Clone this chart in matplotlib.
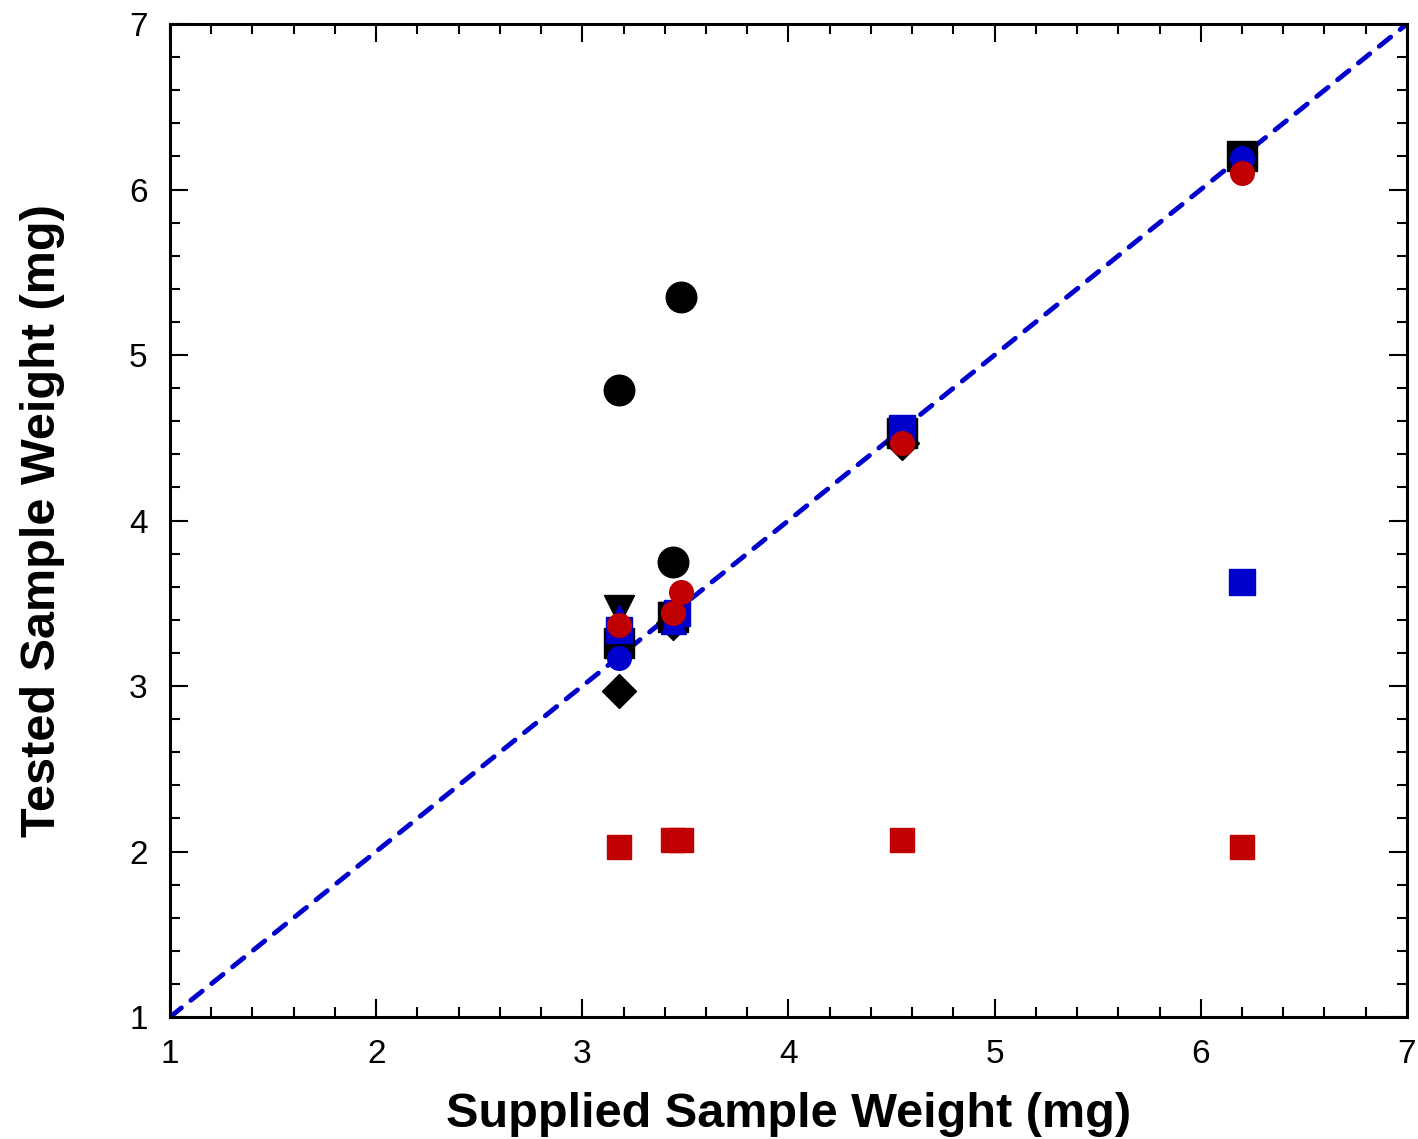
import matplotlib.pyplot as plt
from matplotlib.ticker import MultipleLocator

plt.rcParams['font.family'] = ['Liberation Sans', 'DejaVu Sans']

# supplied vs tested sample weight (mg)
blk_circ_x = [3.18, 3.48, 3.44]
blk_circ_y = [4.79, 5.35, 3.75]
blk_sq_x = [3.18, 3.44, 4.55, 6.20]
blk_sq_y = [3.26, 3.42, 4.53, 6.20]
blk_dia_x = [3.18, 3.44, 4.55]
blk_dia_y = [2.97, 3.38, 4.47]
blk_tri_x = [3.18, 3.44, 4.55]
blk_tri_y = [3.46, 3.42, 4.48]
blu_tri_x = [3.18, 3.44]
blu_tri_y = [3.42, 3.39]
blu_sq_x = [3.18, 3.46, 4.55, 6.20]
blu_sq_y = [3.34, 3.44, 4.56, 3.63]
blu_circ_x = [3.18, 6.20]
blu_circ_y = [3.17, 6.19]
red_circ_x = [3.18, 3.44, 3.48, 4.55, 6.20]
red_circ_y = [3.37, 3.44, 3.57, 4.47, 6.10]
red_sq_x = [3.18, 3.44, 3.48, 4.55, 6.20]
red_sq_y = [2.03, 2.07, 2.07, 2.07, 2.03]

BLUE = '#0000cc'
RED = '#c00000'

fig = plt.figure(figsize=(14.18, 11.39), dpi=100)
ax = fig.add_axes([0.1199, 0.1071, 0.8723, 0.8718])

ax.plot([1, 7], [1, 7], color=BLUE, lw=3.5, ls=(0, (3, 2.5)),
        dash_capstyle='round', zorder=1)

ax.plot(blk_dia_x, blk_dia_y, 'D', color='k', ms=17, ls='none')
ax.plot(blk_tri_x, blk_tri_y, 'v', color='k', ms=21, ls='none')
ax.plot(blk_sq_x, blk_sq_y, 's', color='k', ms=22, ls='none')
ax.plot(blk_circ_x, blk_circ_y, 'o', color='k', ms=22, ls='none')
ax.plot(blu_tri_x, blu_tri_y, '^', color=BLUE, ms=18, ls='none')
ax.plot(blu_sq_x, blu_sq_y, 's', color=BLUE, ms=19, ls='none')
ax.plot(blu_circ_x, blu_circ_y, 'o', color=BLUE, ms=17, ls='none')
ax.plot(red_circ_x, red_circ_y, 'o', color=RED, ms=17, ls='none')
ax.plot(red_sq_x, red_sq_y, 's', color=RED, ms=17, ls='none')

ax.set_xlim(1, 7)
ax.set_ylim(1, 7)
ax.xaxis.set_major_locator(MultipleLocator(1))
ax.xaxis.set_minor_locator(MultipleLocator(0.2))
ax.yaxis.set_major_locator(MultipleLocator(1))
ax.yaxis.set_minor_locator(MultipleLocator(0.2))
ax.tick_params(which='both', direction='in', top=True, right=True,
               labelsize=24, width=1.5)
ax.tick_params(which='major', length=13, pad=16)
ax.tick_params(which='minor', length=7)
for s in ax.spines.values():
    s.set_linewidth(2.2)

ax.set_xlabel('Supplied Sample Weight (mg)', fontsize=35, fontweight='bold', labelpad=16)
ax.set_ylabel('Tested Sample Weight (mg)', fontsize=35, fontweight='bold', labelpad=46)

fig.savefig('out.png', dpi=100)
